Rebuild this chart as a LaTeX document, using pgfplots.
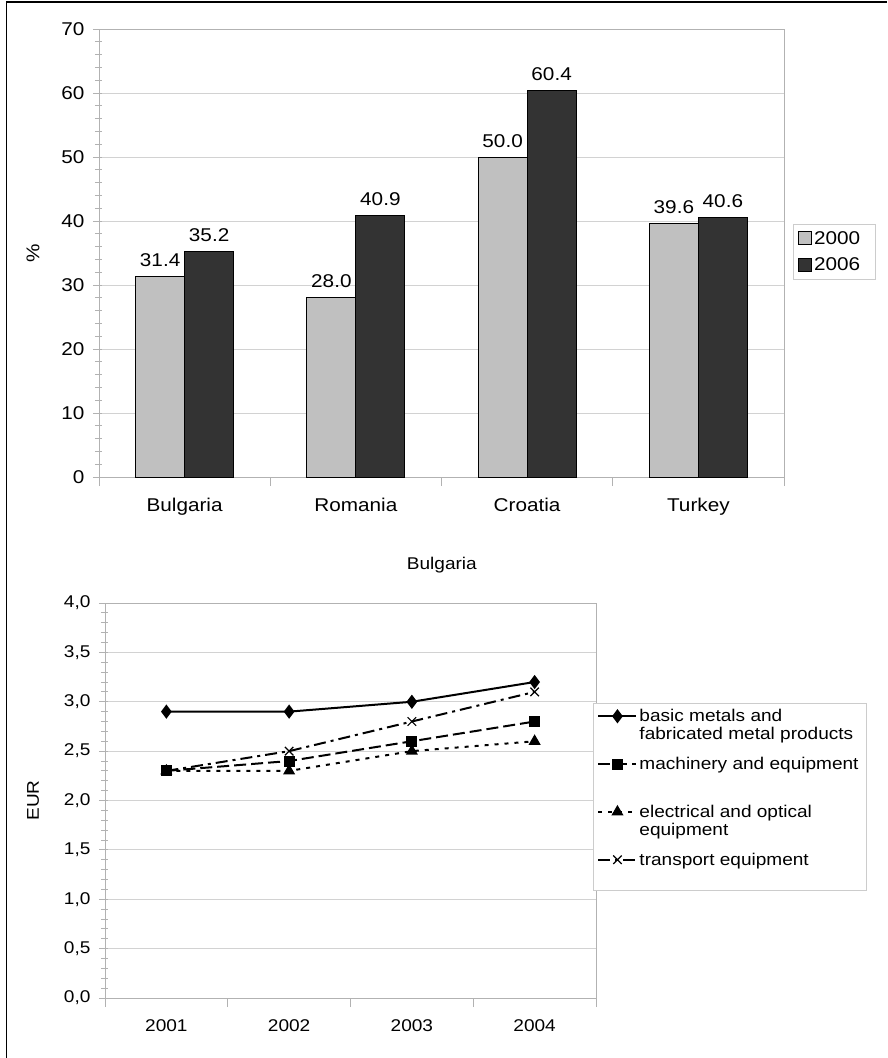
\documentclass[border=0pt]{standalone}
\usepackage{fontspec}
\setmainfont[FakeStretch=1.12]{Liberation Sans}
\usepackage{pgfplots}
\pgfplotsset{compat=1.18}
\pgfplotsset{/pgf/number format/assume math mode=true}
\definecolor{lightbar}{HTML}{C0C0C0}
\definecolor{darkbar}{HTML}{333333}
\begin{document}
\begin{tikzpicture}[x=1pt,y=1pt]
\path[use as bounding box] (0,0) rectangle (887,-1058);
\draw[line width=1.6pt] (6.5,-1058) -- (6.5,-2) -- (887,-2);
\begin{axis}[
  at={(99pt,-477pt)}, anchor=south west, scale only axis,
  width=685pt, height=448pt,
  font=\fontsize{18.5}{21}\selectfont,
  xmin=-0.5, xmax=3.5, ymin=0, ymax=70,
  ybar, bar width=49pt,
  xtick={-0.5,0.5,1.5,2.5,3.5}, x tick label as interval,
  xticklabels={Bulgaria,Romania,Croatia,Turkey},
  ytick={0,10,...,70}, minor y tick num=4,
  xtick pos=bottom, ytick pos=left,
  ymajorgrids, grid style={gray!35, line width=0.8pt},
  axis line style={gray!60, line width=0.8pt},
  tick style={gray!60, line width=0.8pt},
  tick align=outside, major tick length=9pt, minor tick length=7pt,
  y tick style={xshift=3pt},
  xticklabel style={yshift=-9pt},
  yticklabel style={xshift=-2pt},
  ylabel={\%},
  every axis y label/.style={at={(rel axis cs:0,0.5)}, xshift=-66pt, rotate=90, anchor=center},
  nodes near coords={\pgfmathprintnumber[fixed,fixed zerofill,precision=1]{\pgfplotspointmeta}},
  every node near coord/.append style={font=\fontsize{18.5}{21}\selectfont, black, yshift=6pt},
  legend style={at={(1.013,0.565)}, anchor=north west, draw=gray!40, line width=0.8pt,
    font=\fontsize{18.5}{21}\selectfont, row sep=8pt, inner xsep=5pt, inner ysep=5pt},
  legend cell align=left,
  legend image code/.code={\draw[#1, line width=0.8pt] (0pt,-6pt) rectangle (13pt,7pt);},
]
\addplot[fill=lightbar, draw=black, line width=0.8pt, bar shift=-24.5pt] coordinates {(0,31.4) (1,28.0) (2,50.0) (3,39.6)};
\addplot[fill=darkbar, draw=black, line width=0.8pt, bar shift=24.5pt] coordinates {(0,35.2) (1,40.9) (2,60.4) (3,40.6)};
\legend{2000\rule{8pt}{0pt},2006\rule{8pt}{0pt}}
\end{axis}

\begin{axis}[
  at={(105pt,-998pt)}, anchor=south west, scale only axis,
  width=491pt, height=395pt,
  font=\fontsize{17}{18}\selectfont,
  xmin=0.5, xmax=4.5, ymin=0, ymax=4,
  xtick={0.5,1.5,2.5,3.5,4.5}, x tick label as interval,
  xticklabels={2001,2002,2003,2004},
  ytick={0,0.5,...,4}, minor y tick num=4,
  xtick pos=bottom, ytick pos=left,
  yticklabel style={xshift=-2pt, /pgf/number format/.cd, fixed, fixed zerofill, precision=1, use comma, assume math mode=true},
  ymajorgrids, grid style={gray!35, line width=0.8pt},
  axis line style={gray!60, line width=0.8pt},
  tick style={gray!60, line width=0.8pt},
  tick align=outside, major tick length=9pt, minor tick length=7pt,
  y tick style={xshift=3pt},
  xticklabel style={yshift=-9pt},
  ylabel={EUR},
  every axis y label/.style={at={(rel axis cs:0,0.5)}, xshift=-72pt, rotate=90, anchor=center},
  title={Bulgaria},
  title style={at={(axis description cs:0.686,1.081)}, anchor=center, font=\fontsize{17}{19}\selectfont},
  legend style={at={(0.994,0.747)}, anchor=north west, draw=gray!40, line width=0.8pt,
    font=\fontsize{17}{18}\selectfont, row sep=12pt, inner sep=4pt, cells={align=left}},
  legend cell align=left,
  legend image code/.code={\draw[#1, mark repeat=2, mark phase=2, yshift=9pt] plot coordinates {(0pt,0pt) (19pt,0pt) (38pt,0pt)};},
]
\addplot[black, line width=2pt, mark=diamond*, mark size=5.5pt, mark options={solid}] coordinates {(1,2.9) (2,2.9) (3,3.0) (4,3.2)};
\addlegendentry{{basic metals and\\fabricated metal products\rule{7pt}{0pt}}}
\addplot[black, line width=2pt, dash pattern=on 12pt off 5pt, mark=square*, mark size=4.5pt, mark options={solid}] coordinates {(1,2.3) (2,2.4) (3,2.6) (4,2.8)};
\addlegendentry{{machinery and equipment\\\strut}}
\addplot[black, line width=2pt, dash pattern=on 4pt off 6pt, mark=triangle*, mark size=5pt, mark options={solid}] coordinates {(1,2.3) (2,2.3) (3,2.5) (4,2.6)};
\addlegendentry{{electrical and optical\\equipment}}
\addplot[black, line width=2pt, dash pattern=on 12pt off 5pt on 3pt off 5pt, mark=x, mark size=6pt, mark options={solid, line width=1.2pt}] coordinates {(1,2.3) (2,2.5) (3,2.8) (4,3.1)};
\addlegendentry{{transport equipment\\\strut}}
\end{axis}
\end{tikzpicture}
\end{document}
